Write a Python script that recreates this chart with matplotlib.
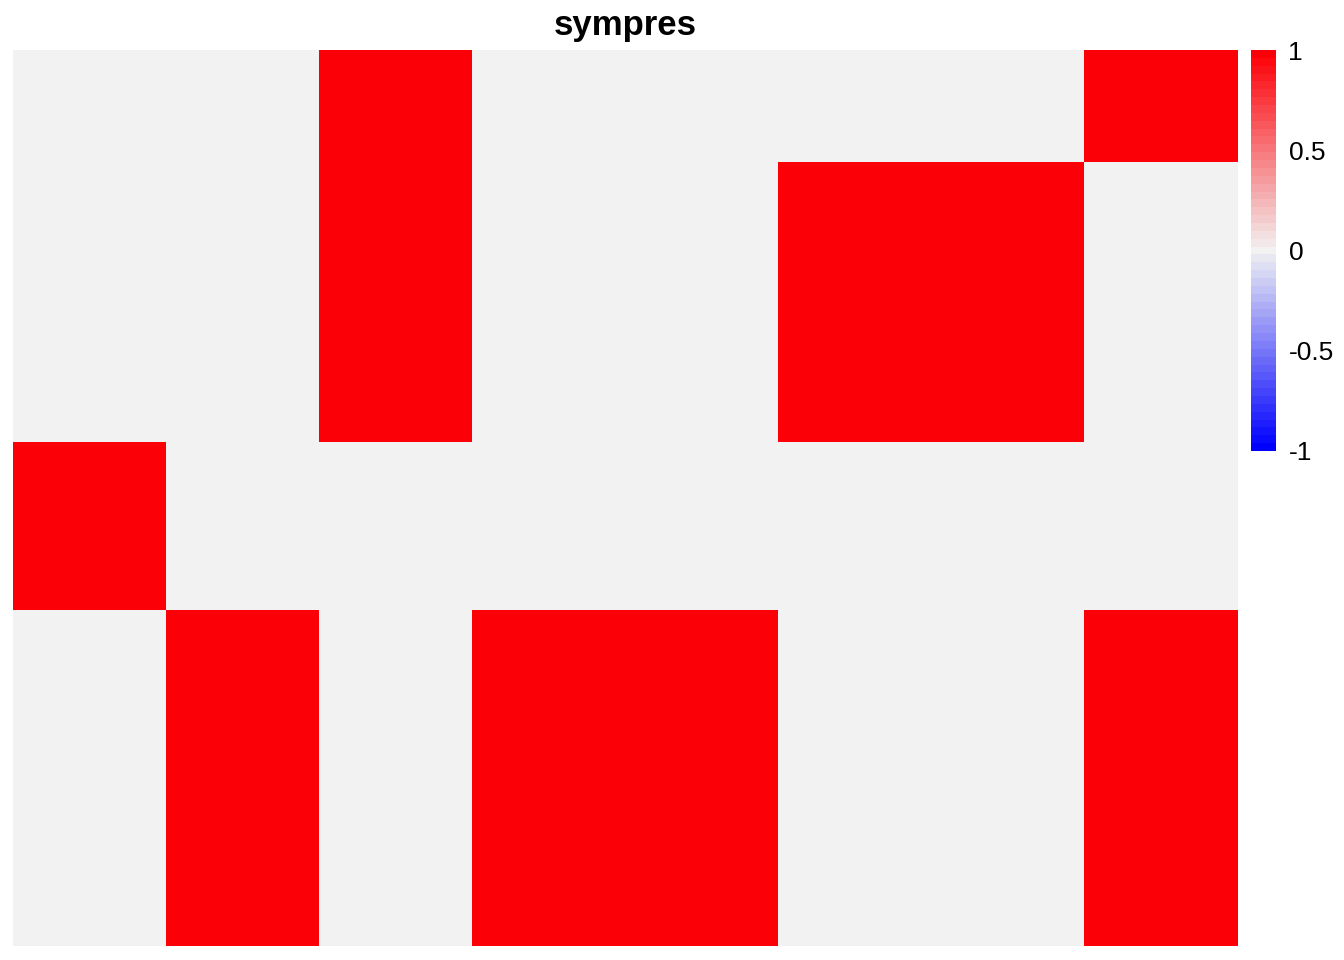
import matplotlib.pyplot as plt
import numpy as np
from matplotlib.colors import LinearSegmentedColormap

plt.rcParams['font.family'] = ['Liberation Sans', 'DejaVu Sans']

# heatmap values, 16 rows x 8 columns
sympres = [
    [0, 0, 1, 0, 0, 0, 0, 1],
    [0, 0, 1, 0, 0, 0, 0, 1],
    [0, 0, 1, 0, 0, 1, 1, 0],
    [0, 0, 1, 0, 0, 1, 1, 0],
    [0, 0, 1, 0, 0, 1, 1, 0],
    [0, 0, 1, 0, 0, 1, 1, 0],
    [0, 0, 1, 0, 0, 1, 1, 0],
    [1, 0, 0, 0, 0, 0, 0, 0],
    [1, 0, 0, 0, 0, 0, 0, 0],
    [1, 0, 0, 0, 0, 0, 0, 0],
    [0, 1, 0, 1, 1, 0, 0, 1],
    [0, 1, 0, 1, 1, 0, 0, 1],
    [0, 1, 0, 1, 1, 0, 0, 1],
    [0, 1, 0, 1, 1, 0, 0, 1],
    [0, 1, 0, 1, 1, 0, 0, 1],
    [0, 1, 0, 1, 1, 0, 0, 1],
]
cb_ticks = [-1, -0.5, 0, 0.5, 1]
cb_labels = ['-1', '-0.5', '0', '0.5', '1']

mat = np.array(sympres)
cmap = LinearSegmentedColormap.from_list('bwr_grey', ['#0000FF', '#F2F2F2', '#FC0007'], N=51)

fig = plt.figure(figsize=(13.44, 9.6), dpi=100)
ax = fig.add_axes([13/1344, 14/960, 1225/1344, 896/960])
im = ax.imshow(mat, cmap=cmap, vmin=-1, vmax=1, aspect='auto', interpolation='nearest')
ax.set_axis_off()
ax.set_title('sympres', fontsize=25, fontweight='bold', pad=11)

cax = fig.add_axes([1251/1344, 509/960, 25/1344, 401/960])
cb = fig.colorbar(im, cax=cax, ticks=cb_ticks)
cb.ax.set_yticklabels(cb_labels)
cb.outline.set_visible(False)
cb.ax.tick_params(length=0, labelsize=19, pad=9)

fig.savefig('out.png', dpi=100)
